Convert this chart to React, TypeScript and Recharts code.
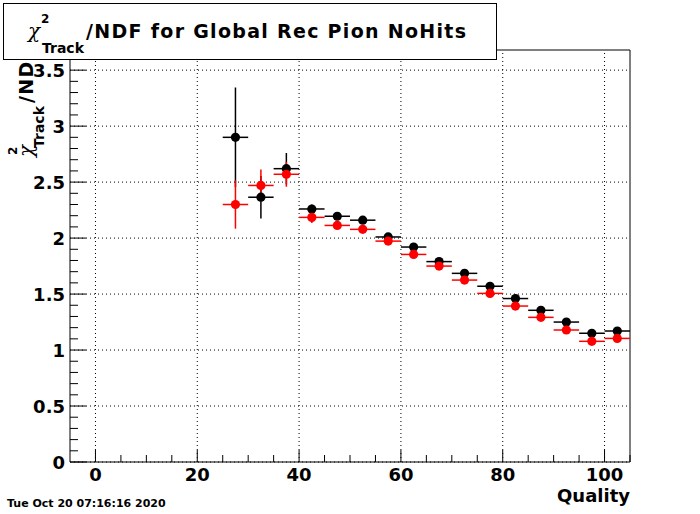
import {
    ComposedChart,
    Scatter,
    ErrorBar,
    XAxis,
    YAxis,
    ReferenceLine,
    ReferenceArea,
} from 'recharts';

// bin centres (Quality), bin half width 2.5
const quality = [27.5, 32.5, 37.5, 42.5, 47.5, 52.5, 57.5, 62.5, 67.5, 72.5, 77.5, 82.5, 87.5, 92.5, 97.5, 102.5];
const blackValues = [2.9, 2.365, 2.62, 2.26, 2.195, 2.16, 2.01, 1.92, 1.79, 1.685, 1.57, 1.46, 1.355, 1.25, 1.15, 1.17];
const blackErrors = [0.445, 0.19, 0.14, 0.04, 0.03, 0.02, 0.02, 0.02, 0.02, 0.02, 0.02, 0.02, 0.02, 0.02, 0.02, 0.02];
const redValues = [2.3, 2.47, 2.57, 2.185, 2.113, 2.078, 1.973, 1.854, 1.75, 1.625, 1.506, 1.393, 1.292, 1.179, 1.078, 1.104];
const redErrors = [0.216, 0.142, 0.111, 0.05, 0.03, 0.02, 0.02, 0.02, 0.02, 0.02, 0.02, 0.02, 0.02, 0.02, 0.02, 0.02];
const binHalfWidth = 2.5;

const xTicks = [0, 5, 10, 15, 20, 25, 30, 35, 40, 45, 50, 55, 60, 65, 70, 75, 80, 85, 90, 95, 100, 105];
const xMajor = [0, 20, 40, 60, 80, 100];
const yTicks = [0, 0.1, 0.2, 0.3, 0.4, 0.5, 0.6, 0.7, 0.8, 0.9, 1, 1.1, 1.2, 1.3, 1.4, 1.5, 1.6, 1.7, 1.8, 1.9, 2,
    2.1, 2.2, 2.3, 2.4, 2.5, 2.6, 2.7, 2.8, 2.9, 3, 3.1, 3.2, 3.3, 3.4, 3.5, 3.6];
const yMajor = [0, 0.5, 1, 1.5, 2, 2.5, 3, 3.5];

const X_DOMAIN: [number, number] = [-5, 105];
const Y_DOMAIN: [number, number] = [0, 3.68];
const PLOT_LEFT = 70;
const PLOT_BOTTOM = 462;
const FONT = '"DejaVu Sans", sans-serif';

const toPoints = (values: number[], errors: number[]) =>
    quality.map((q, i) => ({ x: q, y: values[i], ex: binHalfWidth, ey: errors[i] }));

const blackData = toPoints(blackValues, blackErrors);
const redData = toPoints(redValues, redErrors);

const isMajor = (v: number, list: number[]) => list.some((m) => Math.abs(m - v) < 1e-6);

const XTick = ({ x, payload }: any) => {
    const major = isMajor(payload.value, xMajor);
    return (
        <g>
            <line x1={x} x2={x} y1={PLOT_BOTTOM} y2={PLOT_BOTTOM - (major ? 12 : 7)} stroke="#000" />
            {major && (
                <text x={x} y={PLOT_BOTTOM + 19} textAnchor="middle" fontFamily={FONT} fontWeight="bold" fontSize={18}>
                    {payload.value}
                </text>
            )}
        </g>
    );
};

const YTick = ({ y, payload }: any) => {
    const major = isMajor(payload.value, yMajor);
    return (
        <g>
            <line x1={PLOT_LEFT} x2={PLOT_LEFT + (major ? 16 : 8)} y1={y} y2={y} stroke="#000" />
            {major && (
                <text x={65} y={y + 6.5} textAnchor="end" fontFamily={FONT} fontWeight="bold" fontSize={18}>
                    {payload.value}
                </text>
            )}
        </g>
    );
};

const marker = (color: string) => (props: any) => (
    <circle cx={props.cx} cy={props.cy} r={4.6} fill={color} />
);

export default function App() {
    return (
        <div style={{ position: 'absolute', left: 0, top: 0, width: 700, height: 514, background: '#fff' }}>
            <ComposedChart width={700} height={514} margin={{ top: 50, right: 70, bottom: 0, left: 0 }}>
                <XAxis
                    type="number"
                    dataKey="x"
                    domain={X_DOMAIN}
                    ticks={xTicks}
                    interval={0}
                    height={52}
                    tick={<XTick />}
                    tickLine={false}
                    axisLine={false}
                    allowDataOverflow
                />
                <YAxis
                    type="number"
                    dataKey="y"
                    domain={Y_DOMAIN}
                    ticks={yTicks}
                    interval={0}
                    width={70}
                    tick={<YTick />}
                    tickLine={false}
                    axisLine={false}
                    allowDataOverflow
                />
                {xMajor.map((v) => (
                    <ReferenceLine key={'gx' + v} x={v} stroke="#000" strokeDasharray="1 3" />
                ))}
                {yMajor.map((v) => (
                    <ReferenceLine key={'gy' + v} y={v} stroke="#000" strokeDasharray="1 3" />
                ))}
                <ReferenceArea
                    x1={X_DOMAIN[0]}
                    x2={X_DOMAIN[1]}
                    y1={Y_DOMAIN[0]}
                    y2={Y_DOMAIN[1]}
                    fill="none"
                    fillOpacity={0}
                    stroke="#000"
                    strokeOpacity={1}
                />
                <Scatter data={blackData} dataKey="y" shape={marker('#000')} isAnimationActive={false}>
                    <ErrorBar dataKey="ex" direction="x" width={0} stroke="#000" strokeWidth={1.5} />
                    <ErrorBar dataKey="ey" direction="y" width={0} stroke="#000" strokeWidth={1.5} />
                </Scatter>
                <Scatter data={redData} dataKey="y" shape={marker('#ff0000')} isAnimationActive={false}>
                    <ErrorBar dataKey="ex" direction="x" width={0} stroke="#ff0000" strokeWidth={1.5} />
                    <ErrorBar dataKey="ey" direction="y" width={0} stroke="#ff0000" strokeWidth={1.5} />
                </Scatter>
            </ComposedChart>
            <svg width={700} height={514} style={{ position: 'absolute', left: 0, top: 0, pointerEvents: 'none' }}>
                <g transform="translate(33,0) rotate(-90)" fontFamily={FONT} fontWeight="bold">
                    <text x={-157} y={0} fontFamily='"DejaVu Serif", serif' fontStyle="italic" fontWeight="normal" fontSize={20}>χ</text>
                    <text x={-155} y={-16} fontSize={12}>2</text>
                    <text x={-148} y={10.5} fontSize={14}>Track</text>
                    <text x={-103} y={0} fontSize={19} letterSpacing={1.3}>/NDF</text>
                </g>
                <rect x={3.5} y={3.5} width={493} height={56} fill="#fff" stroke="#000" />
                <g fontFamily={FONT} fontWeight="bold">
                    <text x={28} y={38} fontFamily='"DejaVu Serif", serif' fontStyle="italic" fontWeight="normal" fontSize={20}>χ</text>
                    <text x={41} y={23} fontSize={12}>2</text>
                    <text x={42} y={53} fontSize={14}>Track</text>
                    <text x={86} y={38} fontSize={19} letterSpacing={1.3}>/NDF for Global Rec Pion NoHits</text>
                    <text x={630} y={502} textAnchor="end" fontSize={18}>Quality</text>
                    <text x={7} y={507} fontSize={11}>Tue Oct 20 07:16:16 2020</text>
                </g>
            </svg>
        </div>
    );
}
